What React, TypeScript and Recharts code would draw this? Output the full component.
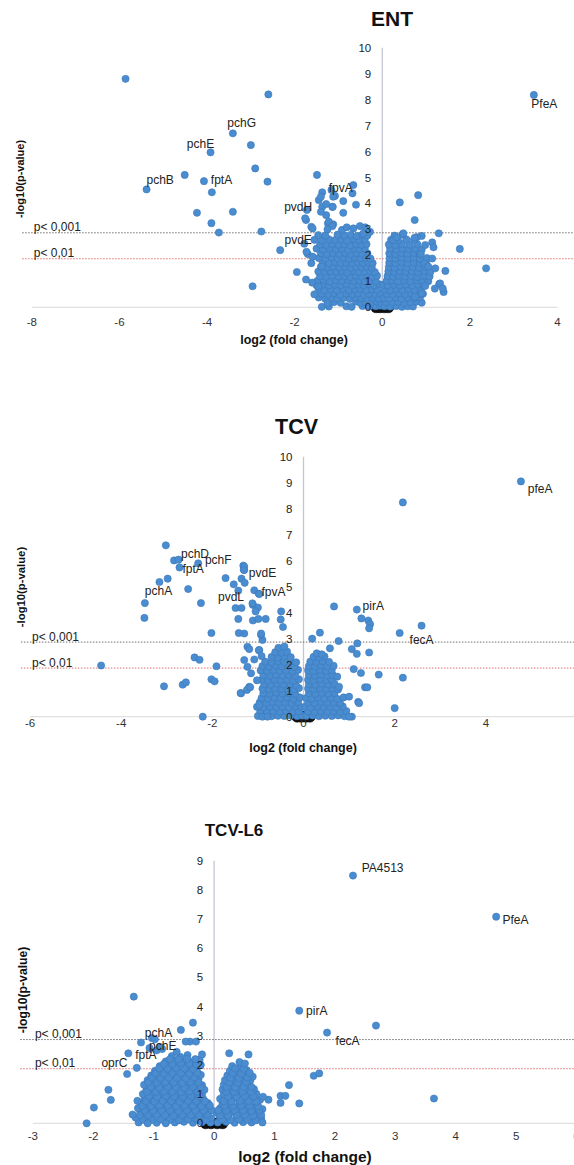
import { ScatterChart, Scatter, XAxis, YAxis, ReferenceLine, ReferenceDot } from "recharts"

type Pt = [number, number]
type GeneLabel = { name: string; x: number; y: number }

const FONT = "'Liberation Sans', Arial, Helvetica, sans-serif"
const DOT = "#4a8cd0"
const DOT_EDGE = "#3b78ba"

// significance cut-offs, as drawn
const cutoffs = [
  { text: "p< 0,001", y: 2.87, color: "#707070" },
  { text: "p< 0,01", y: 1.87, color: "#e07070" },
]

// ---------- ENT ----------
const entXTicks = [-8, -6, -4, -2, 0, 2, 4]
const entYTicks = [0, 1, 2, 3, 4, 5, 6, 7, 8, 9, 10]

const entSig: Pt[] = [
  [-5.86, 8.8], [-2.6, 8.2], [3.46, 8.18], [-3.41, 6.7], [-3.0, 6.25], [-3.92, 5.97],
  [-2.9, 5.35], [-4.51, 5.1], [-4.07, 4.86], [-2.62, 4.84], [-5.38, 4.54], [-3.89, 4.43],
  [-4.23, 3.64], [-3.41, 3.68], [-3.9, 3.24], [-3.73, 2.88], [-2.76, 2.92], [-2.33, 2.2],
  [-1.95, 1.36], [-1.74, 1.07], [-2.96, 0.81], [-1.49, 5.1], [0.82, 4.32], [0.4, 4.04],
  [0.74, 3.36], [1.29, 2.85], [1.77, 2.25], [2.37, 1.5], [1.44, 1.4], [1.14, 2.5],
  [1.14, 1.88], [1.4, 0.59], [1.3, 0.89], [1.2, 0.72], [1.32, 0.92], [1.38, 0.73],
  [-0.66, 4.71], [-0.68, 4.39], [-1.08, 4.29], [-0.89, 4.09], [-0.6, 3.95], [-0.89, 3.64],
  [-1.37, 4.43], [-1.16, 4.52], [-1.45, 4.13], [-1.37, 3.87], [-1.28, 3.98], [-1.14, 3.87],
  [-1.72, 3.75], [-1.74, 3.36], [-1.62, 3.1], [-1.24, 3.23], [-1.12, 3.2], [-1.28, 3.55],
  [-1.4, 4.26], [-1.12, 4.26], [-1.13, 3.87], [-1.4, 3.68], [-1.76, 3.43], [-1.59, 3.04],
  [-1.22, 3.3], [-1.14, 3.13], [-1.25, 3.0], [-0.92, 2.98], [-0.81, 3.08], [-0.66, 3.04],
  [-0.51, 3.13], [-0.39, 3.08], [-0.43, 2.85], [-0.28, 2.91], [0.48, 2.85], [0.9, 2.75],
  [0.79, 2.7], [0.25, 2.59], [0.33, 2.7], [1.17, 2.31], [0.98, 0.82], [0.75, 0.41],
  [0.9, 0.54], [-1.73, 2.14], [-1.59, 1.95], [-1.38, 1.57], [-1.46, 0.8], [0.74, 2.68],
  [0.88, 2.05], [0.96, 1.69], [1.05, 1.57], [1.21, 1.5],
]

const entCore: Pt[] = [
  [-1.38, 0.02], [-1.22, 0.03], [-0.82, 0.04], [-0.7, 0.02], [-0.45, 0.05], [-0.3, 0.03], [-0.15, 0.04], [-0.05, 0.06],
  [-1.1, 0.2], [-0.95, 0.18], [-0.6, 0.22], [-0.5, 0.17], [-0.38, 0.2], [-0.25, 0.18], [-0.12, 0.22], [-0.02, 0.15],
  [-1.45, 0.38], [-1.3, 0.33], [-1.15, 0.36], [-1.02, 0.34], [-0.88, 0.37], [-0.74, 0.32], [-0.62, 0.38], [-0.48, 0.35], [-0.35, 0.33], [-0.22, 0.37], [-0.08, 0.34],
  [-1.38, 0.52], [-1.24, 0.5], [-1.1, 0.55], [-0.96, 0.49], [-0.82, 0.53], [-0.68, 0.5], [-0.55, 0.54], [-0.42, 0.48], [-0.3, 0.52], [-0.16, 0.5], [-0.05, 0.55],
  [-1.45, 0.7], [-1.32, 0.66], [-1.18, 0.7], [-1.04, 0.67], [-0.9, 0.71], [-0.76, 0.66], [-0.62, 0.69], [-0.5, 0.72], [-0.36, 0.66], [-0.24, 0.7], [-0.12, 0.68],
  [-1.5, 0.85], [-1.36, 0.88], [-1.22, 0.84], [-1.08, 0.87], [-0.95, 0.85], [-0.82, 0.9], [-0.68, 0.84], [-0.55, 0.87], [-0.42, 0.85], [-0.3, 0.89], [-0.18, 0.84], [-0.06, 0.88],
  [-1.48, 1.02], [-1.34, 1.05], [-1.2, 1.0], [-1.06, 1.04], [-0.92, 1.02], [-0.78, 1.06], [-0.65, 1.01], [-0.52, 1.04], [-0.4, 1.0], [-0.28, 1.05], [-0.15, 1.02],
  [-1.42, 1.2], [-1.28, 1.18], [-1.14, 1.22], [-1.0, 1.19], [-0.86, 1.21], [-0.73, 1.17], [-0.6, 1.22], [-0.47, 1.19], [-0.34, 1.21], [-0.22, 1.18], [-0.12, 1.22],
  [-1.46, 1.38], [-1.32, 1.36], [-1.18, 1.4], [-1.05, 1.37], [-0.92, 1.39], [-0.8, 1.35], [-0.66, 1.4], [-0.53, 1.36], [-0.4, 1.38], [-0.28, 1.4], [-0.17, 1.36],
  [-1.4, 1.56], [-1.26, 1.53], [-1.12, 1.57], [-0.98, 1.54], [-0.85, 1.56], [-0.72, 1.52], [-0.6, 1.57], [-0.47, 1.54], [-0.35, 1.56], [-0.24, 1.53],
  [-1.36, 1.72], [-1.22, 1.7], [-1.08, 1.74], [-0.95, 1.71], [-0.82, 1.73], [-0.69, 1.7], [-0.56, 1.74], [-0.44, 1.71], [-0.32, 1.73], [-0.22, 1.7],
  [-1.45, 1.9], [-1.3, 1.88], [-1.16, 1.92], [-1.02, 1.89], [-0.89, 1.91], [-0.76, 1.87], [-0.63, 1.92], [-0.5, 1.89], [-0.38, 1.91], [-0.27, 1.88],
  [-1.4, 2.08], [-1.26, 2.05], [-1.12, 2.09], [-0.98, 2.06], [-0.85, 2.1], [-0.72, 2.05], [-0.59, 2.09], [-0.46, 2.06], [-0.34, 2.08],
  [-1.5, 2.26], [-1.35, 2.23], [-1.2, 2.27], [-1.06, 2.24], [-0.92, 2.26], [-0.78, 2.22], [-0.65, 2.27], [-0.52, 2.24], [-0.4, 2.26],
  [-1.42, 2.42], [-1.28, 2.4], [-1.14, 2.44], [-1.0, 2.41], [-0.86, 2.43], [-0.73, 2.39], [-0.6, 2.44], [-0.47, 2.41], [-0.36, 2.43],
  [-1.55, 2.6], [-1.38, 2.58], [-1.22, 2.62], [-1.08, 2.59], [-0.94, 2.61], [-0.8, 2.57], [-0.66, 2.62], [-0.53, 2.59], [-0.4, 2.61],
  [-1.46, 2.78], [-1.3, 2.76], [-1.02, 2.8], [-0.87, 2.77], [-0.72, 2.79], [-0.58, 2.75], [-0.45, 2.8], [-0.34, 2.77],
  [-1.7, 2.05], [-1.62, 1.7], [-1.78, 2.45], [-1.6, 0.95], [-1.55, 0.5], [-1.25, 0.15],
  [0.05, 0.04], [0.18, 0.03], [0.32, 0.05], [0.45, 0.02], [0.58, 0.04], [0.7, 0.03],
  [0.08, 0.2], [0.22, 0.18], [0.36, 0.21], [0.5, 0.17], [0.64, 0.2], [0.78, 0.22], [0.9, 0.18],
  [0.04, 0.36], [0.16, 0.34], [0.3, 0.38], [0.44, 0.33], [0.58, 0.37], [0.72, 0.35], [0.86, 0.38],
  [0.1, 0.52], [0.24, 0.5], [0.38, 0.54], [0.52, 0.5], [0.66, 0.53], [0.8, 0.49], [0.93, 0.52],
  [0.06, 0.68], [0.18, 0.66], [0.32, 0.7], [0.46, 0.67], [0.6, 0.7], [0.74, 0.66], [0.88, 0.69],
  [0.02, 0.86], [0.12, 0.84], [0.26, 0.87], [0.4, 0.84], [0.54, 0.88], [0.68, 0.84], [0.82, 0.87], [0.95, 0.85],
  [0.1, 1.02], [0.22, 1.04], [0.36, 1.0], [0.5, 1.04], [0.64, 1.01], [0.78, 1.05], [0.92, 1.02], [1.05, 1.0],
  [0.12, 1.2], [0.25, 1.18], [0.38, 1.22], [0.52, 1.19], [0.66, 1.21], [0.8, 1.17], [0.94, 1.22], [1.08, 1.19],
  [0.14, 1.38], [0.27, 1.36], [0.4, 1.4], [0.54, 1.37], [0.68, 1.39], [0.82, 1.35], [0.96, 1.4], [1.1, 1.37],
  [0.15, 1.55], [0.28, 1.53], [0.42, 1.57], [0.56, 1.54], [0.7, 1.56], [0.84, 1.52], [0.98, 1.57],
  [0.16, 1.72], [0.3, 1.7], [0.44, 1.74], [0.58, 1.71], [0.72, 1.73], [0.86, 1.7], [1.0, 1.74],
  [0.17, 1.9], [0.3, 1.88], [0.44, 1.92], [0.58, 1.89], [0.72, 1.91], [0.86, 1.87], [1.02, 1.9],
  [0.16, 2.08], [0.3, 2.05], [0.44, 2.09], [0.58, 2.06], [0.72, 2.1], [0.86, 2.06],
  [0.18, 2.26], [0.32, 2.23], [0.46, 2.27], [0.6, 2.24], [0.75, 2.26], [0.9, 2.22],
  [0.15, 2.42], [0.3, 2.4], [0.45, 2.44], [0.62, 2.41], [0.8, 2.43], [0.98, 2.4],
  [0.2, 2.6], [0.36, 2.58], [0.55, 2.62], [0.72, 2.59], [0.28, 2.76], [0.46, 2.8],
]

const entLabels: GeneLabel[] = [
  { name: "pchG", x: -3.21, y: 7.12 },
  { name: "pchE", x: -4.15, y: 6.28 },
  { name: "pchB", x: -5.07, y: 4.9 },
  { name: "fptA", x: -3.67, y: 4.9 },
  { name: "fpvA", x: -0.95, y: 4.62 },
  { name: "pvdH", x: -1.92, y: 3.87 },
  { name: "pvdE", x: -1.92, y: 2.59 },
  { name: "PfeA", x: 3.7, y: 7.83 },
]

// ---------- TCV ----------
const tcvXTicks = [-6, -4, -2, 0, 2, 4, 6]
const tcvYTicks = [0, 1, 2, 3, 4, 5, 6, 7, 8, 9, 10]

const tcvSig: Pt[] = [
  [4.77, 9.05], [2.18, 8.24], [-3.02, 6.59], [-2.84, 6.01], [-2.74, 6.04], [-2.72, 5.74],
  [-2.31, 5.9], [-1.32, 5.81], [-1.31, 5.65], [-1.71, 5.33], [-2.98, 5.31], [-3.16, 5.18],
  [-1.36, 5.31], [-1.29, 5.15], [-1.53, 5.09], [-1.43, 4.85], [-2.53, 4.91], [-1.08, 4.86],
  [-0.98, 4.73], [-2.25, 4.37], [-3.48, 4.37], [-3.49, 3.8], [-1.49, 4.18], [-1.36, 4.18],
  [-1.11, 4.3], [-1.0, 4.2], [-1.05, 4.05], [-1.43, 3.76], [-1.11, 3.7], [-0.99, 3.76],
  [-0.83, 3.76], [-0.49, 4.05], [-0.5, 3.74], [-0.45, 3.45], [-2.02, 3.22], [-1.42, 3.22],
  [-0.93, 3.2], [-2.39, 2.28], [-2.28, 2.19], [-1.91, 1.94], [-4.44, 1.97], [-2.02, 1.44],
  [-1.95, 1.36], [-3.06, 1.17], [-2.65, 1.23], [-2.58, 1.32], [-2.21, 0.0], [-1.38, 0.91],
  [-1.24, 1.03], [-1.17, 1.13], [-1.3, 5.77], [-1.3, 5.64], [-1.12, 4.36], [-0.97, 4.72],
  [0.67, 4.24], [1.17, 4.12], [1.27, 3.78], [1.42, 3.7], [1.46, 3.56], [1.44, 3.4],
  [2.59, 3.5], [2.11, 3.22], [0.36, 3.23], [0.19, 3.0], [0.77, 2.91], [1.18, 2.82],
  [0.58, 2.63], [1.06, 2.6], [1.17, 2.42], [1.44, 2.47], [1.1, 1.83], [1.26, 1.68],
  [1.65, 1.62], [2.18, 1.5], [1.35, 1.13], [1.4, 1.13], [1.2, 0.57], [2.0, 0.33],
  [1.06, 0.0], [0.74, 1.54], [0.78, 1.15], [1.0, 0.77], [1.22, 0.52], [1.0, 0.0],
]

const tcvCore: Pt[] = [
  [-1.0, 0.03], [-0.85, 0.05], [-0.7, 0.02], [-0.56, 0.04], [-0.42, 0.03], [-0.28, 0.05], [-0.14, 0.02], [-0.03, 0.04],
  [-0.95, 0.22], [-0.8, 0.18], [-0.66, 0.21], [-0.52, 0.19], [-0.38, 0.22], [-0.24, 0.18], [-0.1, 0.2],
  [-1.02, 0.38], [-0.88, 0.36], [-0.74, 0.4], [-0.6, 0.37], [-0.46, 0.39], [-0.32, 0.35], [-0.18, 0.4], [-0.05, 0.37],
  [-0.96, 0.55], [-0.82, 0.53], [-0.68, 0.57], [-0.54, 0.54], [-0.4, 0.56], [-0.26, 0.52], [-0.12, 0.57],
  [-0.92, 0.72], [-0.78, 0.7], [-0.64, 0.74], [-0.5, 0.71], [-0.36, 0.73], [-0.22, 0.69], [-0.08, 0.74],
  [-0.88, 0.9], [-0.74, 0.88], [-0.6, 0.92], [-0.46, 0.89], [-0.32, 0.91], [-0.18, 0.87],
  [-0.9, 1.08], [-0.76, 1.06], [-0.62, 1.1], [-0.48, 1.07], [-0.34, 1.09], [-0.2, 1.05], [-0.1, 1.1],
  [-0.86, 1.25], [-0.72, 1.23], [-0.58, 1.27], [-0.44, 1.24], [-0.3, 1.26], [-0.17, 1.22],
  [-0.92, 1.42], [-0.78, 1.4], [-0.64, 1.44], [-0.5, 1.41], [-0.36, 1.43], [-0.22, 1.39], [-0.1, 1.44],
  [-0.88, 1.6], [-0.74, 1.58], [-0.6, 1.62], [-0.46, 1.59], [-0.32, 1.61], [-0.18, 1.57],
  [-0.94, 1.78], [-0.8, 1.76], [-0.66, 1.8], [-0.52, 1.77], [-0.38, 1.79], [-0.24, 1.75], [-0.12, 1.8],
  [-0.9, 1.95], [-0.76, 1.93], [-0.62, 1.97], [-0.48, 1.94], [-0.34, 1.96], [-0.2, 1.92],
  [-0.84, 2.12], [-0.7, 2.1], [-0.56, 2.14], [-0.42, 2.11], [-0.28, 2.13], [-0.16, 2.09],
  [-0.7, 2.3], [-0.56, 2.28], [-0.42, 2.32], [-0.28, 2.29],
  [-0.62, 2.48], [-0.48, 2.46], [-0.36, 2.5], [-0.55, 2.65], [-0.42, 2.7],
  [-1.3, 3.2], [-1.23, 2.69], [-1.19, 2.6], [-0.97, 2.56], [-0.9, 2.95], [-0.93, 3.14],
  [-1.3, 2.18], [-1.15, 1.67], [-1.23, 1.92], [-1.37, 0.9], [-1.19, 1.15], [-0.97, 0.45],
  [-0.9, 0.0], [-0.79, 0.0], [-1.08, 2.2], [-1.02, 1.4], [-0.98, 2.56], [-0.92, 2.33],
  [0.06, 0.03], [0.2, 0.05], [0.34, 0.02], [0.48, 0.04], [0.62, 0.03], [0.76, 0.05], [0.9, 0.02],
  [0.1, 0.2], [0.24, 0.18], [0.38, 0.22], [0.52, 0.19], [0.66, 0.21], [0.8, 0.18], [0.94, 0.22],
  [0.04, 0.38], [0.16, 0.36], [0.3, 0.4], [0.44, 0.37], [0.58, 0.39], [0.72, 0.35], [0.86, 0.4],
  [0.1, 0.55], [0.24, 0.53], [0.38, 0.57], [0.52, 0.54], [0.66, 0.56], [0.8, 0.52],
  [0.06, 0.72], [0.18, 0.7], [0.32, 0.74], [0.46, 0.71], [0.6, 0.73], [0.74, 0.69], [0.88, 0.74],
  [0.12, 0.9], [0.26, 0.88], [0.4, 0.92], [0.54, 0.89], [0.68, 0.91],
  [0.1, 1.08], [0.22, 1.06], [0.36, 1.1], [0.5, 1.07], [0.64, 1.09], [0.76, 1.05],
  [0.12, 1.25], [0.26, 1.23], [0.4, 1.27], [0.54, 1.24], [0.68, 1.26],
  [0.1, 1.42], [0.22, 1.4], [0.36, 1.44], [0.5, 1.41], [0.62, 1.43],
  [0.12, 1.6], [0.25, 1.58], [0.38, 1.62], [0.52, 1.59], [0.64, 1.61],
  [0.1, 1.78], [0.22, 1.76], [0.36, 1.8], [0.5, 1.77], [0.62, 1.79],
  [0.12, 1.95], [0.25, 1.93], [0.38, 1.97], [0.52, 1.94], [0.66, 1.96],
  [0.15, 2.12], [0.28, 2.1], [0.42, 2.14], [0.56, 2.11],
  [0.22, 2.3], [0.34, 2.28], [0.46, 2.32], [0.29, 2.44], [0.4, 2.4],
]

const tcvLabels: GeneLabel[] = [
  { name: "pfeA", x: 5.19, y: 8.78 },
  { name: "pchD", x: -2.38, y: 6.28 },
  { name: "pchF", x: -1.87, y: 6.05 },
  { name: "fptA", x: -2.42, y: 5.7 },
  { name: "pvdE", x: -0.9, y: 5.55 },
  { name: "pchA", x: -3.18, y: 4.83 },
  { name: "pvdL", x: -1.59, y: 4.62 },
  { name: "fpvA", x: -0.66, y: 4.81 },
  { name: "pirA", x: 1.53, y: 4.26 },
  { name: "fecA", x: 2.59, y: 2.95 },
]

// ---------- TCV-L6 ----------
const l6XTicks = [-3, -2, -1, 0, 1, 2, 3, 4, 5, 6]
const l6YTicks = [0, 1, 2, 3, 4, 5, 6, 7, 8, 9]

const l6Sig: Pt[] = [
  [2.3, 8.49], [4.67, 7.08], [-1.33, 4.34], [1.41, 3.86], [2.68, 3.35], [1.87, 3.11],
  [1.65, 1.63], [1.74, 1.71], [1.24, 1.31], [3.64, 0.85], [1.1, 0.94], [1.18, 0.94],
  [1.1, 0.7], [1.41, 0.68], [0.9, 0.81], [0.81, 0.91], [0.8, 0.03],
  [-0.35, 3.45], [-0.55, 3.2], [-1.21, 2.77], [-1.42, 2.4], [-1.44, 1.69], [-1.28, 1.9],
  [-1.75, 1.15], [-1.71, 0.8], [-1.99, 0.54], [-2.11, 0.0], [-1.1, 0.0], [-0.8, 0.0],
  [-0.4, 2.8], [-0.47, 2.8], [-0.3, 2.8], [-1.03, 2.92], [-0.98, 2.88], [-1.07, 2.58],
  [-0.95, 2.5], [-0.86, 2.55], [-0.9, 2.62], [-1.27, 0.77], [-1.35, 0.3], [-0.62, 2.45],
  [0.25, 2.4], [0.42, 2.1], [0.51, 2.05], [0.57, 2.36],
]

const l6Core: Pt[] = [
  [-1.25, 0.03], [-1.1, 0.05], [-0.95, 0.02], [-0.8, 0.04], [-0.65, 0.03], [-0.5, 0.05], [-0.35, 0.02], [-0.2, 0.04], [-0.06, 0.03],
  [-1.3, 0.2], [-1.16, 0.18], [-1.02, 0.22], [-0.88, 0.19], [-0.74, 0.21], [-0.6, 0.18], [-0.46, 0.22], [-0.32, 0.19], [-0.18, 0.21], [-0.05, 0.18],
  [-1.22, 0.36], [-1.08, 0.34], [-0.94, 0.38], [-0.8, 0.35], [-0.66, 0.37], [-0.52, 0.33], [-0.38, 0.38], [-0.24, 0.35], [-0.1, 0.37],
  [-1.26, 0.52], [-1.12, 0.5], [-0.98, 0.54], [-0.84, 0.51], [-0.7, 0.53], [-0.56, 0.49], [-0.42, 0.54], [-0.28, 0.51], [-0.14, 0.53],
  [-1.2, 0.68], [-1.06, 0.66], [-0.92, 0.7], [-0.78, 0.67], [-0.64, 0.69], [-0.5, 0.65], [-0.36, 0.7], [-0.22, 0.67], [-0.1, 0.69],
  [-1.15, 0.84], [-1.01, 0.82], [-0.87, 0.86], [-0.73, 0.83], [-0.59, 0.85], [-0.45, 0.81], [-0.31, 0.86], [-0.18, 0.83],
  [-1.18, 1.0], [-1.04, 0.98], [-0.9, 1.02], [-0.76, 0.99], [-0.62, 1.01], [-0.48, 0.97], [-0.34, 1.02], [-0.2, 0.99],
  [-1.12, 1.16], [-0.98, 1.14], [-0.84, 1.18], [-0.7, 1.15], [-0.56, 1.17], [-0.42, 1.13], [-0.28, 1.18], [-0.16, 1.15],
  [-1.16, 1.32], [-1.02, 1.3], [-0.88, 1.34], [-0.74, 1.31], [-0.6, 1.33], [-0.46, 1.29], [-0.32, 1.34], [-0.2, 1.31],
  [-1.1, 1.48], [-0.96, 1.46], [-0.82, 1.5], [-0.68, 1.47], [-0.54, 1.49], [-0.4, 1.45], [-0.26, 1.5],
  [-1.04, 1.64], [-0.9, 1.62], [-0.76, 1.66], [-0.62, 1.63], [-0.48, 1.65], [-0.34, 1.61], [-0.22, 1.66],
  [-0.98, 1.8], [-0.84, 1.78], [-0.7, 1.82], [-0.56, 1.79], [-0.42, 1.81], [-0.28, 1.77],
  [-0.9, 1.96], [-0.76, 1.94], [-0.62, 1.98], [-0.48, 1.95], [-0.34, 1.97], [-0.22, 2.0],
  [-0.8, 2.12], [-0.66, 2.1], [-0.52, 2.14], [-0.38, 2.11], [-0.24, 2.18],
  [-0.7, 2.3], [-0.56, 2.28], [-0.44, 2.34], [-0.2, 2.36],
  [0.06, 0.03], [0.2, 0.05], [0.34, 0.02], [0.48, 0.04], [0.62, 0.03],
  [0.1, 0.2], [0.24, 0.18], [0.38, 0.22], [0.52, 0.19], [0.66, 0.21], [0.78, 0.18],
  [0.04, 0.36], [0.16, 0.34], [0.3, 0.38], [0.44, 0.35], [0.58, 0.37], [0.72, 0.33],
  [0.1, 0.52], [0.24, 0.5], [0.38, 0.54], [0.52, 0.51], [0.66, 0.53], [0.8, 0.49],
  [0.14, 0.68], [0.28, 0.66], [0.42, 0.7], [0.56, 0.67], [0.7, 0.69],
  [0.1, 0.84], [0.22, 0.82], [0.36, 0.86], [0.5, 0.83], [0.64, 0.85], [0.76, 0.8],
  [0.16, 1.0], [0.3, 0.98], [0.44, 1.02], [0.58, 0.99], [0.7, 1.01],
  [0.14, 1.16], [0.26, 1.14], [0.4, 1.18], [0.54, 1.15], [0.66, 1.17],
  [0.16, 1.32], [0.3, 1.3], [0.44, 1.34], [0.58, 1.31],
  [0.18, 1.48], [0.32, 1.46], [0.46, 1.5], [0.6, 1.47],
  [0.22, 1.64], [0.36, 1.62], [0.5, 1.66], [0.64, 1.6],
  [0.26, 1.8], [0.4, 1.78], [0.54, 1.82], [0.3, 1.96], [0.44, 1.94],
]

// in-between genes that close the gaps of the TCV-L6 cloud
const l6Fill: Pt[] = [
  [-1.18, 0.12], [-1.03, 0.11], [-0.88, 0.13], [-0.73, 0.12], [-0.58, 0.1], [-0.43, 0.13], [-0.28, 0.12], [-0.13, 0.11],
  [-1.23, 0.28], [-1.09, 0.27], [-0.95, 0.29], [-0.81, 0.28], [-0.67, 0.26], [-0.53, 0.29], [-0.39, 0.28], [-0.25, 0.27], [-0.11, 0.29],
  [-1.15, 0.44], [-1.01, 0.43], [-0.87, 0.45], [-0.73, 0.44], [-0.59, 0.42], [-0.45, 0.45], [-0.31, 0.44], [-0.17, 0.43], [-0.04, 0.45],
  [-1.19, 0.6], [-1.05, 0.59], [-0.91, 0.61], [-0.77, 0.6], [-0.63, 0.58], [-0.49, 0.61], [-0.35, 0.6], [-0.21, 0.59], [-0.07, 0.61],
  [-1.13, 0.76], [-0.99, 0.75], [-0.85, 0.77], [-0.71, 0.76], [-0.57, 0.74], [-0.43, 0.77], [-0.29, 0.76], [-0.15, 0.75],
  [-1.08, 0.92], [-0.94, 0.91], [-0.8, 0.93], [-0.66, 0.92], [-0.52, 0.9], [-0.38, 0.93], [-0.24, 0.92],
  [-1.11, 1.08], [-0.97, 1.07], [-0.83, 1.09], [-0.69, 1.08], [-0.55, 1.06], [-0.41, 1.09], [-0.27, 1.08],
  [-1.05, 1.24], [-0.91, 1.23], [-0.77, 1.25], [-0.63, 1.24], [-0.49, 1.22], [-0.35, 1.25], [-0.22, 1.24],
  [-1.09, 1.4], [-0.95, 1.39], [-0.81, 1.41], [-0.67, 1.4], [-0.53, 1.38], [-0.39, 1.41], [-0.26, 1.4],
  [-1.03, 1.56], [-0.89, 1.55], [-0.75, 1.57], [-0.61, 1.56], [-0.47, 1.54], [-0.33, 1.57],
  [-0.97, 1.72], [-0.83, 1.71], [-0.69, 1.73], [-0.55, 1.72], [-0.41, 1.7], [-0.28, 1.73],
  [-0.91, 1.88], [-0.77, 1.87], [-0.63, 1.89], [-0.49, 1.88], [-0.35, 1.86],
  [-0.83, 2.04], [-0.69, 2.03], [-0.55, 2.05], [-0.41, 2.04], [-0.29, 2.02],
  [-0.73, 2.2], [-0.59, 2.19], [-0.45, 2.21], [-0.31, 2.2],
  [0.13, 0.12], [0.27, 0.11], [0.41, 0.13], [0.55, 0.12], [0.69, 0.1],
  [0.1, 0.28], [0.23, 0.27], [0.37, 0.29], [0.51, 0.28], [0.65, 0.26], [0.78, 0.29],
  [0.07, 0.44], [0.2, 0.43], [0.34, 0.45], [0.48, 0.44], [0.62, 0.42], [0.75, 0.45],
  [0.17, 0.6], [0.31, 0.59], [0.45, 0.61], [0.59, 0.6], [0.73, 0.58],
  [0.16, 0.76], [0.29, 0.75], [0.43, 0.77], [0.57, 0.76], [0.7, 0.74],
  [0.23, 0.92], [0.37, 0.91], [0.51, 0.93], [0.65, 0.92],
  [0.2, 1.08], [0.33, 1.07], [0.47, 1.09], [0.61, 1.08],
  [0.21, 1.24], [0.35, 1.23], [0.49, 1.25], [0.62, 1.24],
  [0.25, 1.4], [0.39, 1.39], [0.53, 1.41],
  [0.27, 1.56], [0.41, 1.55], [0.55, 1.57],
  [0.31, 1.72], [0.45, 1.71], [0.59, 1.73], [0.35, 1.88], [0.49, 1.87],
]

const l6Labels: GeneLabel[] = [
  { name: "PA4513", x: 2.79, y: 8.76 },
  { name: "PfeA", x: 4.99, y: 6.97 },
  { name: "pirA", x: 1.7, y: 3.86 },
  { name: "fecA", x: 2.21, y: 2.83 },
  { name: "pchA", x: -0.92, y: 3.1 },
  { name: "pchE", x: -0.85, y: 2.66 },
  { name: "fptA", x: -1.13, y: 2.34 },
  { name: "oprC", x: -1.65, y: 2.06 },
]

// overlapping non-changed genes right at the origin (dark blob)
const originPts: Pt[] = [[-0.14, 0], [-0.05, 0], [0.05, 0], [0.14, 0]]

type PanelCfg = {
  title: string
  points: Pt[]
  labels: GeneLabel[]
  xDomain: [number, number]
  xTicks: number[]
  yTicks: number[]
  lineFrom: number
  lineTo: number
  top: number
  width: number
  height: number
  margin: { top: number; right: number; bottom: number; left: number }
  tickMargin: number
  titlePos: [number, number, number]
  xTitlePos: [number, number, number]
  yTitlePos: [number, number, number]
}

const panels: PanelCfg[] = [
  {
    title: "ENT",
    points: [...entCore, ...entSig],
    labels: entLabels,
    xDomain: [-8, 4],
    xTicks: entXTicks,
    yTicks: entYTicks,
    lineFrom: -8.22,
    lineTo: 4.4,
    top: 0,
    width: 574,
    height: 360,
    margin: { top: 47.7, right: 16.5, bottom: 22.7, left: 31.8 },
    tickMargin: 11,
    titlePos: [392, 18, 21],
    xTitlePos: [294, 340, 12.5],
    yTitlePos: [20, 179, 11],
  },
  {
    title: "TCV",
    points: [...tcvCore, ...tcvSig],
    labels: tcvLabels,
    xDomain: [-6, 6],
    xTicks: tcvXTicks,
    yTicks: tcvYTicks,
    lineFrom: -6.2,
    lineTo: 6,
    top: 380,
    width: 580,
    height: 380,
    margin: { top: 76.7, right: 3, bottom: 13.3, left: 30 },
    tickMargin: 2.5,
    titlePos: [296.5, 428, 21.5],
    xTitlePos: [303, 748, 12.5],
    yTitlePos: [22, 587, 11.3],
  },
  {
    title: "TCV-L6",
    points: [...l6Core, ...l6Fill, ...l6Sig],
    labels: l6Labels,
    xDomain: [-3, 6],
    xTicks: l6XTicks,
    yTicks: l6YTicks,
    lineFrom: -3.21,
    lineTo: 6,
    top: 770,
    width: 580,
    height: 395,
    margin: { top: 90.7, right: 3.5, bottom: 11.7, left: 32.9 },
    tickMargin: 9,
    titlePos: [234, 830, 17],
    xTitlePos: [305, 1157, 15.5],
    yTitlePos: [23, 990, 12.2],
  },
]

const dotShape = (fill: string, stroke: string, r: number) => (p: any) =>
  <circle cx={p.cx} cy={p.cy} r={r} fill={fill} stroke={stroke} strokeWidth={0.6} />

function Volcano({ cfg }: { cfg: PanelCfg }) {
  const data = cfg.points.map(([x, y]) => ({ x, y }))
  const origin = originPts.map(([x, y]) => ({ x, y }))
  const yMax = cfg.yTicks[cfg.yTicks.length - 1]
  return (
    <div style={{ position: "absolute", left: 0, top: cfg.top }}>
      <ScatterChart width={cfg.width} height={cfg.height} margin={cfg.margin}>
        <XAxis
          type="number"
          dataKey="x"
          domain={cfg.xDomain}
          ticks={cfg.xTicks}
          interval={0}
          axisLine={{ stroke: "#d9d9d9" }}
          tickLine={false}
          tickSize={0}
          tickMargin={cfg.tickMargin}
          tick={{ fontSize: 11.5, fill: "#333", fontFamily: FONT }}
        />
        <YAxis type="number" dataKey="y" domain={[0, yMax]} ticks={cfg.yTicks} hide width={0} />
        <Scatter data={origin} shape={dotShape("#111", "#000", 5.5)} isAnimationActive={false} />
        <Scatter data={data} shape={dotShape(DOT, DOT_EDGE, 3.6)} isAnimationActive={false} />
        <ReferenceLine
          segment={[{ x: 0, y: 0 }, { x: 0, y: yMax }]}
          stroke="#c3c6d4"
          strokeWidth={1.3}
          ifOverflow="visible"
        />
        {cutoffs.map((c) => (
          <ReferenceLine
            key={c.text}
            segment={[{ x: cfg.lineFrom, y: c.y }, { x: cfg.lineTo, y: c.y }]}
            stroke={c.color}
            strokeDasharray="1.5 1.5"
            ifOverflow="visible"
          />
        ))}
        {cutoffs.map((c) => (
          <ReferenceDot
            key={"t" + c.text}
            x={cfg.xDomain[0]}
            y={c.y}
            r={0}
            ifOverflow="visible"
            shape={(p: any) => (
              <text x={p.cx + 2} y={p.cy - 1.5} fontSize={12} fill="#222" fontFamily={FONT}>
                {c.text}
              </text>
            )}
          />
        ))}
        {cfg.yTicks.map((v) => (
          <ReferenceDot
            key={"y" + v}
            x={0}
            y={v}
            r={0}
            ifOverflow="visible"
            shape={(p: any) => (
              <text x={p.cx - 11} y={p.cy} dy="0.35em" textAnchor="end" fontSize={11.5} fill="#222" fontFamily={FONT}>
                {v}
              </text>
            )}
          />
        ))}
        {cfg.labels.map((g) => (
          <ReferenceDot
            key={"g" + g.name}
            x={g.x}
            y={g.y}
            r={0}
            ifOverflow="visible"
            shape={(p: any) => (
              <text x={p.cx} y={p.cy} dy="0.35em" textAnchor="middle" fontSize={12} fill="#222" fontFamily={FONT}>
                {g.name}
              </text>
            )}
          />
        ))}
      </ScatterChart>
    </div>
  )
}

function Txt({ pos, text, rotate }: { pos: [number, number, number]; text: string; rotate?: boolean }) {
  return (
    <div
      style={{
        position: "absolute",
        left: pos[0],
        top: pos[1],
        transform: `translate(-50%, -50%)${rotate ? " rotate(-90deg)" : ""}`,
        fontSize: pos[2],
        fontWeight: 700,
        whiteSpace: "nowrap",
        lineHeight: 1,
        color: "#111",
      }}
    >
      {text}
    </div>
  )
}

export default function App() {
  return (
    <div
      style={{
        position: "absolute",
        left: 0,
        top: 0,
        width: 574,
        height: 1165,
        overflow: "hidden",
        background: "#fff",
        fontFamily: FONT,
      }}
    >
      {panels.map((cfg) => (
        <Volcano key={cfg.title} cfg={cfg} />
      ))}
      {panels.map((cfg) => (
        <div key={"t" + cfg.title}>
          <Txt pos={cfg.titlePos} text={cfg.title} />
          <Txt pos={cfg.xTitlePos} text="log2 (fold change)" />
          <Txt pos={cfg.yTitlePos} text="-log10(p-value)" rotate />
        </div>
      ))}
    </div>
  )
}
